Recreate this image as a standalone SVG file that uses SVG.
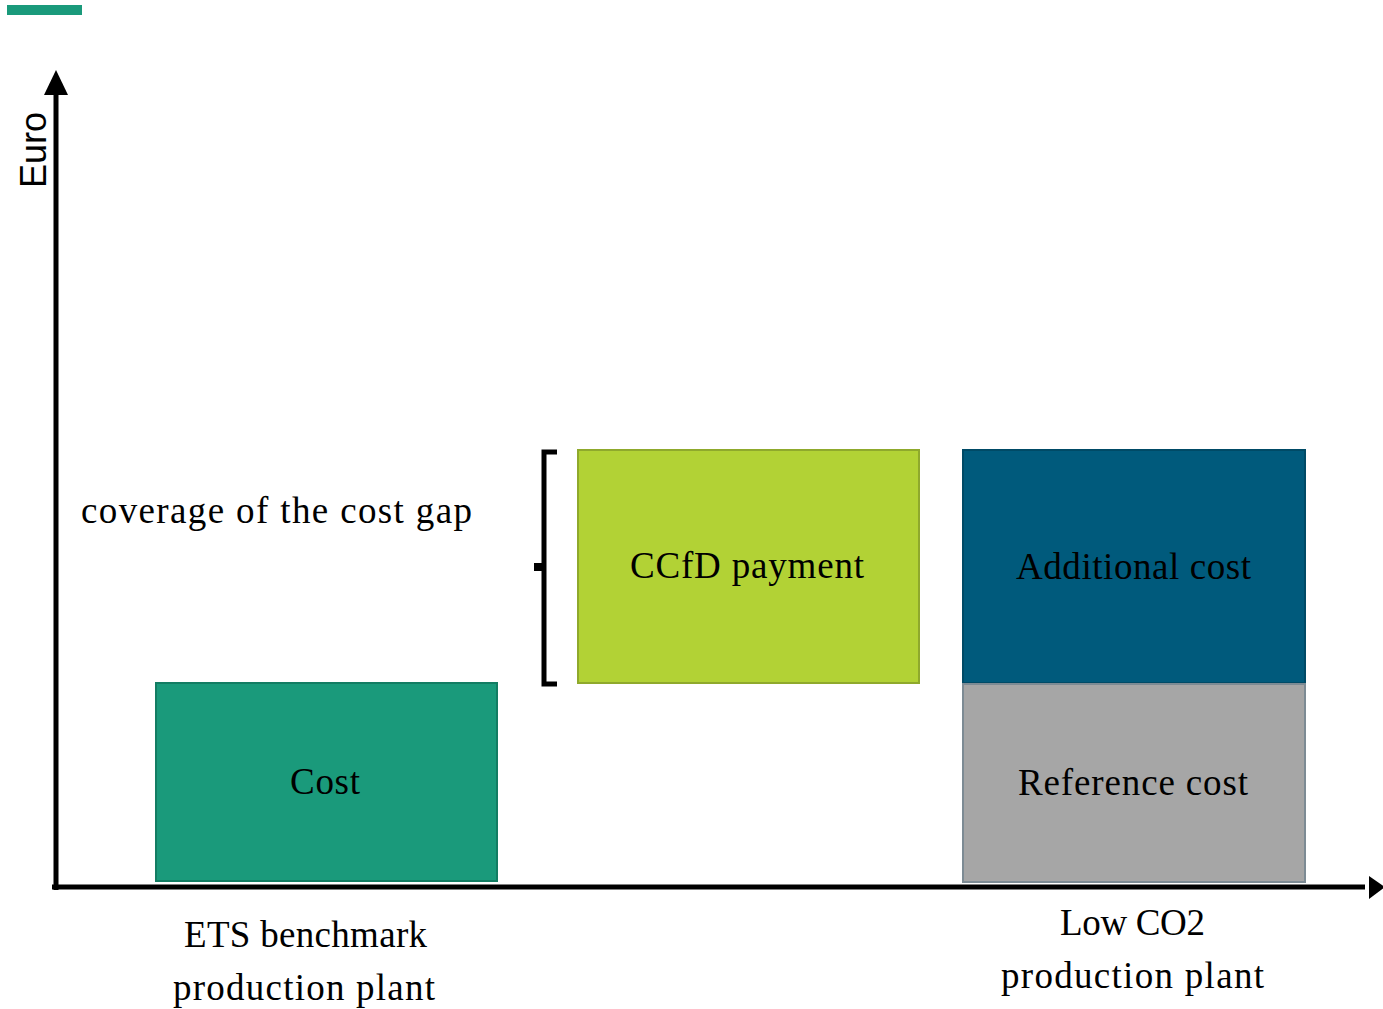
<svg xmlns="http://www.w3.org/2000/svg" width="1383" height="1009" viewBox="0 0 1383 1009">
<style>
.t{font-family:"Liberation Serif","Times New Roman",serif;font-size:37px;fill:#000;}
.axis{stroke:#000;stroke-width:5;fill:none;}
</style>
<rect x="0" y="0" width="1383" height="1009" fill="#fff"/>
<rect x="7" y="5" width="75" height="10" fill="#1a9a7b"/>
<g id="connectors">
<line class="axis" x1="56" y1="90" x2="56" y2="890"/>
<polygon points="56,70 44,95 68,95" fill="#000"/>
<line class="axis" x1="52" y1="887" x2="1365" y2="887"/>
<polygon points="1385,887 1369,876 1369,899" fill="#000"/>
<path d="M557,452 H544 V684 H557" stroke="#000" stroke-width="5" fill="none"/>
<rect x="534" y="563" width="12" height="8" fill="#000"/>
</g>
<text transform="translate(46,188) rotate(-90)" font-family="Liberation Sans, Arial, sans-serif" font-size="37" textLength="76" lengthAdjust="spacingAndGlyphs">Euro</text>
<text class="t" x="81" y="523" textLength="391" lengthAdjust="spacing">coverage of the cost gap</text>
<g id="cost">
<rect x="156" y="683" width="341" height="198" fill="#1a9a7b" stroke="#137d63" stroke-width="2"/>
<text class="t" x="290" y="794" textLength="70" lengthAdjust="spacing">Cost</text>
</g>
<g id="ccfd">
<rect x="578" y="450" width="341" height="233" fill="#b2d235" stroke="#8fa92c" stroke-width="2"/>
<text class="t" x="630" y="578" textLength="234" lengthAdjust="spacing">CCfD payment</text>
</g>
<g id="additional">
<rect x="963" y="450" width="342" height="233" fill="#005a7c" stroke="#004a66" stroke-width="2"/>
<text class="t" x="1016" y="579" textLength="235" lengthAdjust="spacing">Additional cost</text>
</g>
<g id="reference">
<rect x="963" y="684" width="342" height="198" fill="#a6a6a6" stroke="#7d8b94" stroke-width="2"/>
<text class="t" x="1018" y="795" textLength="230" lengthAdjust="spacing">Reference cost</text>
</g>
<g id="label-ets">
<text class="t" x="184" y="947" textLength="243" lengthAdjust="spacing">ETS benchmark</text>
<text class="t" x="173" y="1000" textLength="262" lengthAdjust="spacing">production plant</text>
</g>
<g id="label-low">
<text class="t" x="1060" y="935" textLength="145" lengthAdjust="spacing">Low CO2</text>
<text class="t" x="1001" y="988" textLength="263" lengthAdjust="spacing">production plant</text>
</g>
</svg>
